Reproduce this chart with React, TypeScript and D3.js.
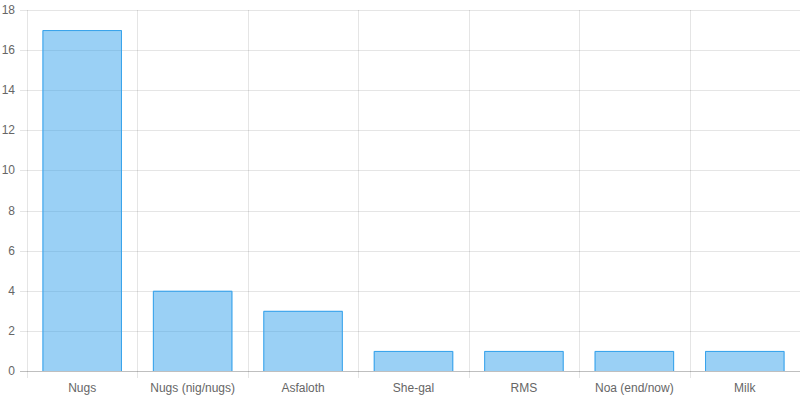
import React from "react";
import * as d3 from "d3";

const categories = ["Nugs", "Nugs (nig/nugs)", "Asfaloth", "She-gal", "RMS", "Noa (end/now)", "Milk"];
const values = [17, 4, 3, 1, 1, 1, 1];
const yTicks = [0, 2, 4, 6, 8, 10, 12, 14, 16, 18];

const W = 800;
const H = 400;
const left = 27;
const right = 800;
const top = 10;
const bottom = 371;

export default function App() {
  const x = d3.scaleBand<string>().domain(categories).range([left, right]).paddingInner(0).paddingOuter(0);
  const y = d3.scaleLinear().domain([0, 18]).range([bottom, top]);
  const bw = x.bandwidth();
  const barW = bw * 0.72;
  const font = "'Liberation Sans', Arial, Helvetica, sans-serif";
  const boundaries = categories.map((c) => x(c) as number);

  return (
    <div style={{ position: "fixed", left: 0, top: 0, width: W, height: H, background: "#fff" }}>
      <svg width={W} height={H} style={{ display: "block" }}>
        {/* horizontal grid */}
        {yTicks.map((t) => {
          const yy = Math.round(y(t)) + 0.5;
          return (
            <line
              key={"h" + t}
              x1={left - 7}
              x2={right}
              y1={yy}
              y2={yy}
              stroke={t === 0 ? "rgba(0,0,0,0.25)" : "rgba(0,0,0,0.1)"}
              strokeWidth={1}
            />
          );
        })}
        {/* vertical grid */}
        {boundaries.map((b, i) => {
          const xx = Math.round(b) + 0.5;
          return (
            <line
              key={"v" + i}
              x1={xx}
              x2={xx}
              y1={top}
              y2={bottom + 7}
              stroke="rgba(0,0,0,0.1)"
              strokeWidth={1}
            />
          );
        })}
        {/* bars */}
        {categories.map((c, i) => {
          const x0 = (x(c) as number) + (bw - barW) / 2;
          const y0 = y(values[i]);
          const y1 = y(0);
          return (
            <g key={"b" + c}>
              <rect x={x0} y={y0} width={barW} height={y1 - y0} fill="rgba(54,162,235,0.5)" />
              <path
                d={`M${x0 + 0.5},${y1} L${x0 + 0.5},${y0 + 0.5} L${x0 + barW - 0.5},${y0 + 0.5} L${x0 + barW - 0.5},${y1}`}
                fill="none"
                stroke="rgb(54,162,235)"
                strokeWidth={1}
              />
            </g>
          );
        })}
        {/* y labels */}
        {yTicks.map((t) => (
          <text
            key={"yl" + t}
            x={15}
            y={y(t)}
            textAnchor="end"
            dominantBaseline="central"
            fontFamily={font}
            fontSize={12}
            fill="#666"
          >
            {t}
          </text>
        ))}
        {/* x labels */}
        {categories.map((c) => (
          <text
            key={"xl" + c}
            x={(x(c) as number) + bw / 2}
            y={388}
            textAnchor="middle"
            dominantBaseline="central"
            fontFamily={font}
            fontSize={12}
            fill="#666"
          >
            {c}
          </text>
        ))}
      </svg>
    </div>
  );
}
